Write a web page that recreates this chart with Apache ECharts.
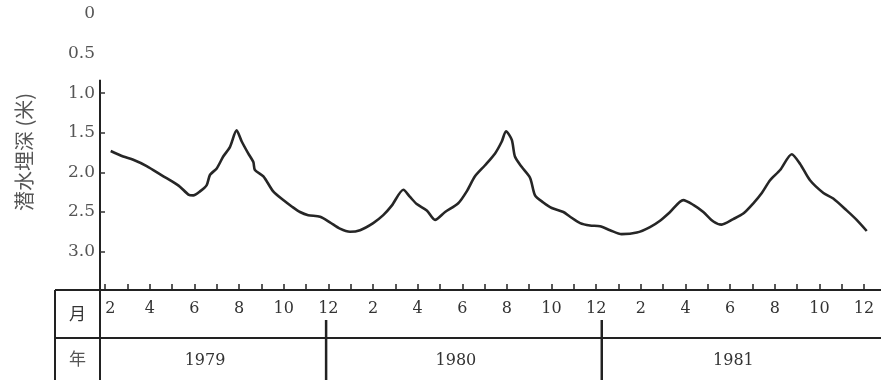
<!DOCTYPE html>
<html>
<head>
<meta charset="utf-8">
<script src="https://cdn.jsdelivr.net/npm/echarts@6/dist/echarts.min.js"></script>
<style>html,body{margin:0;padding:0;background:#fff;}#c{width:881px;height:380px;}</style>
</head>
<body>
<div id="c"></div>
<script>
// Month index: 1979-01 = 1, 1980-01 = 13, 1981-01 = 25
var months = [2.25,2.81,3.26,3.86,4.61,4.98,5.35,5.73,5.95,6.25,6.55,6.70,7.00,7.29,7.59,7.89,8.12,8.41,8.64,8.71,9.09,9.53,9.98,10.36,10.73,11.10,11.63,12.07,12.52,12.97,13.42,14.01,14.46,14.84,15.36,15.66,15.96,16.41,16.78,17.23,17.82,18.20,18.57,19.02,19.47,19.77,19.96,20.22,20.36,20.66,21.04,21.26,21.63,22.01,22.53,22.83,23.28,23.72,24.17,24.62,25.14,25.82,26.41,26.86,27.31,27.90,28.35,28.80,29.25,29.62,30.14,30.59,31.04,31.42,31.79,32.24,32.76,33.13,33.58,34.18,34.62,35.22,35.67,36.12];
var depth = [1.73,1.80,1.84,1.92,2.05,2.11,2.18,2.28,2.29,2.24,2.16,2.03,1.95,1.80,1.68,1.47,1.61,1.76,1.87,1.97,2.05,2.24,2.35,2.43,2.50,2.54,2.56,2.63,2.71,2.75,2.73,2.64,2.54,2.42,2.22,2.31,2.40,2.48,2.60,2.50,2.39,2.24,2.05,1.91,1.76,1.61,1.48,1.59,1.80,1.93,2.07,2.29,2.38,2.45,2.50,2.56,2.64,2.67,2.68,2.73,2.78,2.76,2.69,2.61,2.50,2.35,2.41,2.50,2.62,2.66,2.59,2.52,2.39,2.26,2.10,1.97,1.77,1.89,2.10,2.26,2.33,2.48,2.60,2.74];
var yTickLabels = [0, 0.5, 1.0, 1.5, 2.0, 2.5, 3.0];
var yTicks = [1.0, 1.5, 2.0, 2.5, 3.0];
var monthLabelValues = [2,4,6,8,10,12,14,16,18,20,22,24,26,28,30,32,34,36];
var monthTickValues = [2,3,4,5,6,7,8,9,10,11,12,13,14,15,16,17,18,19,20,21,22,23,24,25,26,27,28,29,30,31,32,33,34,35,36];
var years = ['1979', '1980', '1981'];
var yearBounds = [11.9, 24.25];
var yName = '潜水埋深 (米)';
var rowMonth = '月';
var rowYear = '年';

var X_MIN = 1.77, X_MAX = 36.76, Y_MAX = 3.485;
var serif = 'DejaVu Serif';
var chart = echarts.init(document.getElementById('c'), null, {renderer: 'canvas'});
var pts = months.map(function (m, i) { return [m, depth[i]]; });

chart.setOption({
  animation: false,
  backgroundColor: '#ffffff',
  grid: {left: 100, right: 0, top: 14, bottom: 90, containLabel: false},
  xAxis: {
    type: 'value', min: X_MIN, max: X_MAX,
    axisLine: {show: true, onZero: false, lineStyle: {color: '#222', width: 2}},
    axisTick: {show: true, inside: true, length: 6, customValues: monthTickValues, lineStyle: {color: '#222', width: 1.5}},
    axisLabel: {
      show: true, customValues: monthLabelValues, margin: 11, alignMinLabel: 'left',
      fontFamily: serif, fontSize: 16, color: '#333',
      formatter: function (v) { return String(((Math.round(v) - 1) % 12) + 1); }
    },
    splitLine: {show: false}
  },
  yAxis: {
    type: 'value', inverse: true, min: 0, max: Y_MAX,
    name: yName, nameLocation: 'middle', nameRotate: 90, nameGap: 66,
    nameTextStyle: {fontFamily: 'Noto Sans CJK SC', fontSize: 20, color: '#555'},
    axisLine: {show: false},
    axisTick: {show: true, inside: true, length: 5, customValues: yTicks, lineStyle: {color: '#333', width: 1.5}},
    axisLabel: {
      show: true, customValues: yTickLabels, margin: 5,
      fontFamily: serif, fontSize: 17, color: '#555',
      formatter: function (v) { return v === 0 ? '0' : v.toFixed(1); }
    },
    splitLine: {show: false}
  },
  series: [{
    type: 'line', data: pts, symbol: 'none', smooth: 0.25,
    lineStyle: {color: '#262626', width: 2.6}
  }]
});

function px(v) { return chart.convertToPixel({xAxisIndex: 0}, v); }
function py(v) { return chart.convertToPixel({yAxisIndex: 0}, v); }
var axisX = px(X_MIN);
var axisY = py(Y_MAX);
var W = 881, H = 380;
var tableLeft = 55, rowSplit = 338, yearLineTop = 320;
var lineStyle = {stroke: '#222', lineWidth: 2};
var g = [];
// vertical y axis line, extends through the table
g.push({type: 'line', shape: {x1: axisX, y1: py(0.83), x2: axisX, y2: H}, style: lineStyle});
// table lines
g.push({type: 'line', shape: {x1: tableLeft, y1: axisY, x2: axisX, y2: axisY}, style: lineStyle});
g.push({type: 'line', shape: {x1: tableLeft, y1: rowSplit, x2: W, y2: rowSplit}, style: lineStyle});
g.push({type: 'line', shape: {x1: tableLeft, y1: axisY, x2: tableLeft, y2: H}, style: lineStyle});
yearBounds.forEach(function (b) {
  var x = px(b);
  g.push({type: 'line', shape: {x1: x, y1: yearLineTop, x2: x, y2: H}, style: {stroke: '#222', lineWidth: 2.5}});
});
// row headers
g.push({type: 'text', x: (tableLeft + axisX) / 2, y: (axisY + rowSplit) / 2, style: {text: rowMonth, fontFamily: 'Noto Sans CJK SC', fontSize: 17, fill: '#333', align: 'center', verticalAlign: 'middle'}});
g.push({type: 'text', x: (tableLeft + axisX) / 2, y: (rowSplit + H) / 2, style: {text: rowYear, fontFamily: 'Noto Sans CJK SC', fontSize: 17, fill: '#555', align: 'center', verticalAlign: 'middle'}});
// year labels centred in their segments
var edges = [axisX].concat(yearBounds.map(px)).concat([W]);
years.forEach(function (yr, i) {
  g.push({type: 'text', x: (edges[i] + edges[i + 1]) / 2 - 8, y: (rowSplit + H) / 2 + 2, style: {text: yr, fontFamily: serif, fontSize: 16, fill: '#333', align: 'center', verticalAlign: 'middle'}});
});
chart.setOption({graphic: g});
</script>
</body>
</html>
